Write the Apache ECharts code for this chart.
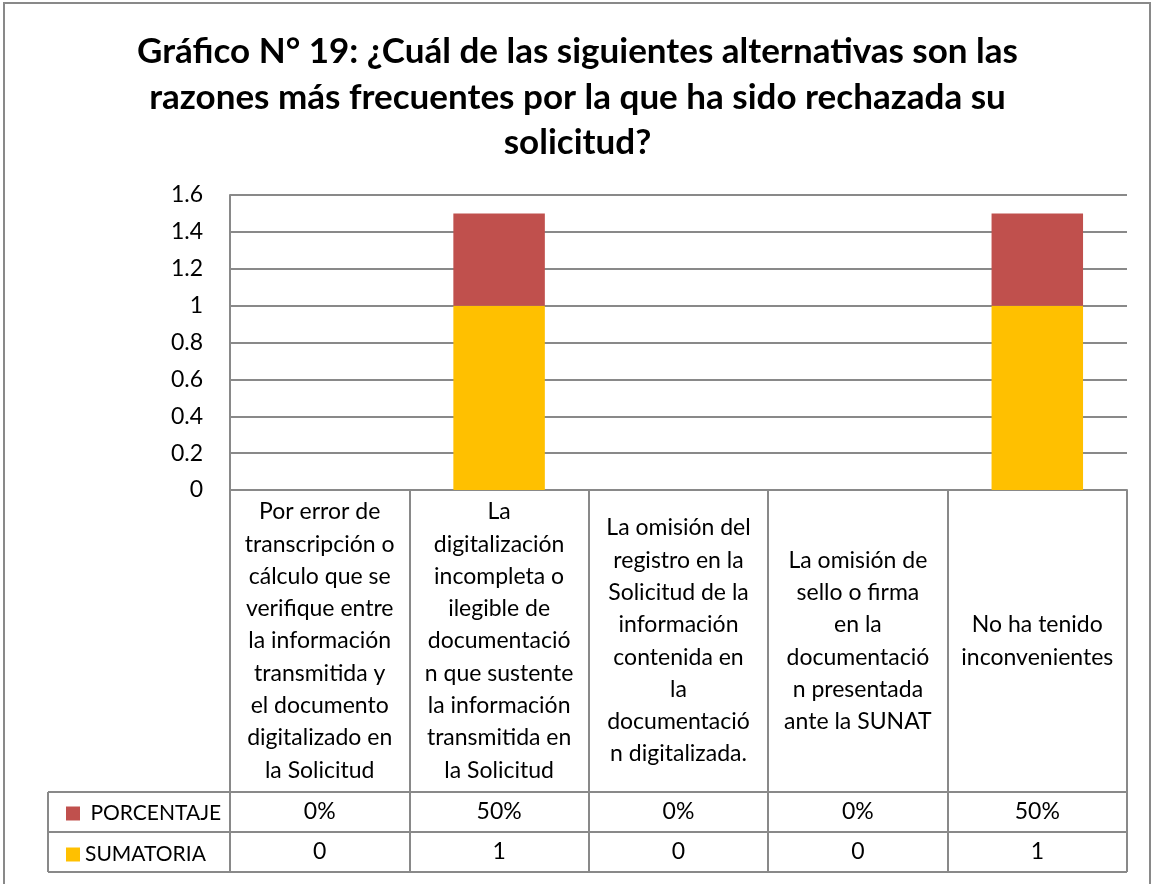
<!DOCTYPE html>
<html>
  <head>
    <meta charset="utf-8" />
    <title>Gráfico N° 19</title>
    <script src="https://cdn.jsdelivr.net/npm/echarts@6/dist/echarts.min.js"></script>
    <style>
      body { margin: 0; background: #fff; }
    </style>
  </head>
  <body>
    <div id="echarts" style="width: 1155px; height: 884px"></div>

    <script type="text/javascript">
// Data
const categories = [
  'Por error de\ntranscripción o\ncálculo que se\nverifique entre\nla información\ntransmitida y\nel documento\ndigitalizado en\nla Solicitud',
  'La\ndigitalización\nincompleta o\nilegible de\ndocumentació\nn que sustente\nla información\ntransmitida en\nla Solicitud',
  'La omisión del\nregistro en la\nSolicitud de la\ninformación\ncontenida en\nla\ndocumentació\nn digitalizada.',
  'La omisión de\nsello o firma\nen la\ndocumentació\nn presentada\nante la SUNAT',
  'No ha tenido\ninconvenientes'
];
const sumatoria = [0, 1, 0, 0, 1];
const porcentaje = [0, 0.5, 0, 0, 0.5];
const yTicks = { min: 0, max: 1.6, interval: 0.2 };

window.onload = function() {
  const font = 'Lato';
  const gray = '#898989';
  const labelSize = 23;

  // Plot area / table geometry
  const left = 230, right = 1127, top = 195, axisY = 490;
  const row1 = 792, row2 = 832, row3 = 872, tableLeft = 48;

  const option = {
    animation: false,
    textStyle: { fontFamily: font, color: '#000' },
    title: {
      text: 'Gráfico N° 19: ¿Cuál de las siguientes alternativas son las\nrazones más frecuentes por la que ha sido rechazada su\nsolicitud?',
      left: 'center',
      top: 24,
      textStyle: {
        fontFamily: font,
        fontSize: 35,
        fontWeight: 'bold',
        lineHeight: 45.5,
        color: '#000'
      }
    },
    legend: {
      orient: 'vertical',
      left: 61,
      top: 798,
      data: ['PORCENTAJE', 'SUMATORIA'],
      formatter: (name) => (name === 'PORCENTAJE' ? ' ' + name : name),
      icon: 'rect',
      itemWidth: 14,
      itemHeight: 14,
      itemGap: 20,
      textStyle: { fontFamily: font, fontSize: 21, lineHeight: 20, height: 20, color: '#000' }
    },
    grid: {
      left: left,
      right: 1155 - right,
      top: top,
      bottom: 884 - axisY
    },
    xAxis: [
      {
        type: 'category',
        data: categories,
        axisLine: { show: true, lineStyle: { color: gray, width: 2 } },
        axisTick: {
          show: true,
          alignWithLabel: false,
          length: row3 - axisY,
          lineStyle: { color: gray, width: 2 }
        },
        axisLabel: {
          interval: 0,
          margin: 151,
          verticalAlign: 'middle',
          align: 'center',
          fontFamily: font,
          fontSize: labelSize,
          lineHeight: 32.3,
          color: '#000'
        }
      },
      {
        type: 'category',
        position: 'bottom',
        data: porcentaje.map((v) => Math.round(v * 100) + '%'),
        axisLine: { show: false },
        axisTick: { show: false },
        axisLabel: {
          interval: 0,
          margin: (row1 + row2) / 2 - axisY,
          verticalAlign: 'middle',
          fontFamily: font,
          fontSize: labelSize,
          color: '#000'
        }
      },
      {
        type: 'category',
        position: 'bottom',
        data: sumatoria.map((v) => String(v)),
        axisLine: { show: false },
        axisTick: { show: false },
        axisLabel: {
          interval: 0,
          margin: (row2 + row3) / 2 - axisY,
          verticalAlign: 'middle',
          fontFamily: font,
          fontSize: labelSize,
          color: '#000'
        }
      }
    ],
    yAxis: {
      type: 'value',
      min: yTicks.min,
      max: yTicks.max,
      interval: yTicks.interval,
      axisLine: { show: true, lineStyle: { color: gray, width: 2 } },
      axisTick: { show: false },
      splitLine: { show: true, lineStyle: { color: gray, width: 2 } },
      axisLabel: {
        margin: 27,
        fontFamily: font,
        fontSize: labelSize,
        color: '#000'
      }
    },
    series: [
      {
        name: 'SUMATORIA',
        type: 'bar',
        stack: 'total',
        barWidth: '51%',
        itemStyle: { color: '#FFC000' },
        data: sumatoria
      },
      {
        name: 'PORCENTAJE',
        type: 'bar',
        stack: 'total',
        barWidth: '51%',
        itemStyle: { color: '#C0504D' },
        data: porcentaje
      }
    ],
    graphic: [
      // Outer chart border
      {
        type: 'rect',
        shape: { x: 4, y: 3, width: 1146, height: 920 },
        style: { fill: null, stroke: gray, lineWidth: 2 },
        silent: true
      },
      // Data table lines
      {
        type: 'line',
        shape: { x1: tableLeft, y1: row1, x2: right, y2: row1 },
        style: { stroke: gray, lineWidth: 2 }
      },
      {
        type: 'line',
        shape: { x1: tableLeft, y1: row2, x2: right, y2: row2 },
        style: { stroke: gray, lineWidth: 2 }
      },
      {
        type: 'line',
        shape: { x1: tableLeft, y1: row3, x2: right, y2: row3 },
        style: { stroke: gray, lineWidth: 2 }
      },
      {
        type: 'line',
        shape: { x1: tableLeft, y1: row1, x2: tableLeft, y2: row3 },
        style: { stroke: gray, lineWidth: 2 }
      }
    ]
  };

  const chart = echarts.init(document.getElementById('echarts'));
  chart.setOption(option);
};
    </script>
  </body>
</html>
